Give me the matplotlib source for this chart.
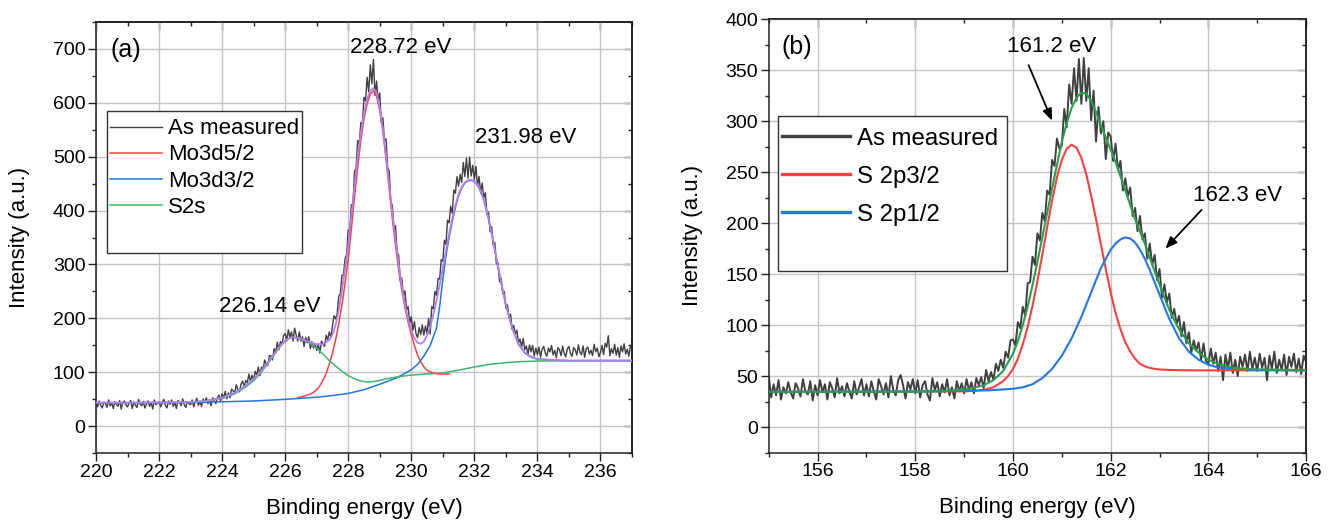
import numpy as np
import matplotlib
matplotlib.use("Agg")
import matplotlib.pyplot as plt
from matplotlib.ticker import MultipleLocator
from matplotlib.patches import Rectangle

plt.rcParams['font.family'] = ['Liberation Sans', 'DejaVu Sans']

# ---------------- Panel (a): Mo 3d / S 2s ----------------
a_meas_E = np.linspace(220, 237, 341)
a_meas_I = [
    44, 36, 47, 39, 34, 45, 42, 35, 49, 38, 43, 33, 46, 41, 37, 48, 32, 44, 47, 40,
    36, 43, 48, 33, 45, 39, 35, 50, 42, 38, 46, 34, 41, 47, 37, 44, 32, 49, 40, 43,
    46, 36, 43, 50, 39, 34, 47, 41, 49, 37, 44, 33, 48, 45, 38, 51, 40, 35, 46, 42,
    40, 49, 36, 46, 52, 39, 46, 37, 51, 44, 53, 42, 50, 38, 53, 48, 42, 53, 58, 47,
    60, 52, 65, 51, 62, 53, 69, 66, 61, 77, 68, 64, 78, 84, 73, 85, 81, 97, 83, 95,
    85, 102, 95, 110, 94, 110, 105, 123, 116, 113, 131, 131, 123, 144, 137, 156, 142, 157, 153, 168,
    172, 158, 179, 165, 175, 158, 182, 169, 158, 175, 158, 166, 148, 165, 155, 166, 144, 157, 145, 153,
    141, 153, 136, 158, 153, 148, 169, 160, 175, 165, 186, 205, 199, 209, 241, 246, 280, 281, 311, 319,
    364, 363, 411, 410, 473, 478, 530, 523, 563, 560, 610, 603, 647, 620, 670, 635, 680, 613, 640, 602,
    618, 563, 572, 528, 533, 480, 473, 415, 410, 363, 372, 323, 317, 270, 275, 242, 251, 216, 222, 191,
    203, 178, 194, 172, 164, 183, 170, 188, 169, 186, 172, 200, 171, 222, 218, 250, 243, 274, 273, 309,
    306, 345, 337, 382, 377, 408, 395, 438, 432, 463, 445, 467, 452, 489, 463, 497, 460, 499, 464, 484,
    457, 482, 446, 463, 432, 451, 423, 433, 393, 397, 361, 370, 335, 341, 301, 303, 268, 275, 246, 250,
    219, 225, 201, 208, 179, 187, 171, 178, 154, 162, 147, 163, 142, 149, 133, 151, 138, 150, 130, 145,
    133, 147, 128, 143, 148, 136, 130, 145, 138, 150, 132, 141, 127, 146, 142, 131, 149, 135, 129, 144,
    148, 135, 130, 146, 142, 132, 151, 137, 133, 149, 128, 144, 147, 134, 141, 131, 152, 138, 145, 129,
    137, 150, 133, 154, 147, 168, 131, 144, 135, 152, 132, 146, 128, 149, 138, 153, 134, 143, 130, 148,
    150,
]

a_red_E = np.round(np.arange(226.4, 231.25, 0.1), 2)
a_red_I = [53, 54.5, 56, 58, 60, 63, 68, 75, 85, 98,
           115, 136, 160, 190, 225, 265, 310, 365, 425, 480,
           530, 570, 598, 616, 622, 612, 585, 545, 495, 440,
           385, 335, 290, 252, 220, 193, 170, 150, 132, 120,
           110, 104, 101, 99, 98, 97, 97, 97, 97]

a_blue_E = [220, 221, 222, 223, 224, 225, 226, 226.5, 227, 227.5, 228, 228.5, 229, 229.5,
            229.7, 230.0, 230.2, 230.4, 230.6, 230.8, 230.9, 231.0, 231.1, 231.2, 231.3,
            231.4, 231.5, 231.6, 231.7, 231.8, 231.9, 232.0, 232.1, 232.2, 232.3, 232.4,
            232.5, 232.6, 232.7, 232.8, 232.9, 233.0, 233.2, 233.4, 233.6, 233.8, 234.0,
            234.5, 235, 236, 237]
a_blue_I = [43, 43.5, 44, 44.5, 45.5, 47, 50, 52, 54, 57, 61, 68, 78, 89,
            95, 105, 115, 130, 150, 182, 222, 272, 316, 351, 380,
            406, 427, 442, 451, 455, 456, 454, 447, 436, 419, 397,
            371, 342, 311, 281, 252, 225, 182, 152, 136, 128, 124.5,
            122.5, 121.5, 121.5, 121.5]

a_green_E = [223.0, 223.5, 224.0, 224.4, 224.8, 225.0, 225.2, 225.4, 225.6, 225.8, 226.0,
             226.1, 226.2, 226.4, 226.6, 226.8, 227.0, 227.2, 227.4, 227.6, 227.8, 228.0,
             228.2, 228.4, 228.6, 228.8, 229.0, 229.2, 229.4, 229.6, 230.0, 230.5, 231.0,
             231.5, 232.0, 232.5, 233.0, 233.5, 234.0, 235.0, 236.0, 237.0]
a_green_I = [45, 47, 52, 60, 75, 85, 97, 112, 128, 145, 158,
             163, 165, 164, 160, 153, 145, 134, 122, 112, 102, 94,
             88, 84, 82, 83, 85, 88, 90, 92, 95, 97, 99,
             104, 110, 115, 118, 120, 121, 121.5, 122, 122]

a_env_E = [220, 221, 222, 223, 223.5, 224.0, 224.4, 224.8, 225.0, 225.2, 225.4, 225.6,
           225.8, 226.0, 226.2, 226.4, 226.6, 226.8, 227.0, 227.2, 227.4, 227.5, 227.6,
           227.7, 227.8, 227.9, 228.0, 228.1, 228.2, 228.3, 228.4, 228.5, 228.6, 228.7,
           228.8, 228.9, 229.0, 229.1, 229.2, 229.3, 229.4, 229.5, 229.6, 229.7, 229.8,
           229.9, 230.0, 230.1, 230.2, 230.3, 230.4, 230.5, 230.6, 230.7, 230.8, 230.9,
           231.0, 231.1, 231.2, 231.3, 231.4, 231.5, 231.6, 231.7, 231.8, 231.9, 232.0,
           232.1, 232.2, 232.3, 232.4, 232.5, 232.6, 232.7, 232.8, 232.9, 233.0, 233.2,
           233.4, 233.6, 233.8, 234.0, 234.5, 235.0, 236.0, 237.0]
a_env_I = [44, 44, 44.5, 45, 47, 53, 62, 78, 88, 100, 114, 130,
           146, 159, 165, 164, 160, 156, 152, 152, 160, 170, 188,
           215, 252, 292, 335, 390, 445, 500, 545, 580, 607, 622,
           627, 618, 592, 552, 502, 448, 395, 345, 300, 260, 226,
           198, 178, 163, 155, 153, 157, 168, 185, 207, 233, 262,
           293, 325, 356, 385, 410, 430, 444, 452, 456, 457, 455,
           448, 437, 420, 398, 372, 343, 312, 282, 253, 226, 183,
           153, 137, 129, 125, 123, 122, 122, 122]

a_labels = ["As measured", "Mo3d5/2", "Mo3d3/2", "S2s"]

# ---------------- Panel (b): S 2p ----------------
b_meas_E = np.linspace(155, 166, 221)
b_meas_I = [
    50, 29, 42, 31, 46, 27, 39, 33, 44, 34, 28, 43, 38, 30, 47, 35, 32, 45, 26, 41,
    31, 46, 34, 42, 27, 44, 38, 29, 48, 33, 40, 30, 43, 35, 28, 45, 32, 39, 47, 31,
    42, 30, 45, 35, 27, 47, 40, 32, 43, 29, 50, 36, 31, 46, 51, 41, 28, 44, 37, 47,
    33, 46, 29, 41, 45, 32, 26, 48, 36, 44, 30, 42, 34, 47, 31, 39, 28, 45, 35, 43,
    33, 47, 36, 44, 33, 48, 41, 49, 38, 56, 45, 54, 46, 62, 55, 66, 58, 74, 68, 85,
    86, 80, 103, 97, 118, 109, 141, 142, 167, 159, 190, 183, 210, 202, 232, 228, 262, 256, 283, 273,
    276, 312, 294, 336, 317, 352, 320, 361, 317, 362, 320, 352, 301, 330, 280, 314, 288, 300, 263, 289,
    285, 261, 278, 252, 261, 232, 244, 226, 235, 207, 215, 192, 207, 184, 190, 165, 180, 159, 169, 144,
    155, 127, 140, 122, 131, 107, 116, 101, 109, 89, 103, 82, 93, 73, 85, 75, 83, 66, 82, 65,
    62, 77, 62, 73, 55, 69, 46, 71, 57, 73, 53, 66, 50, 69, 59, 71, 55, 74, 57, 68,
    55, 72, 58, 68, 46, 70, 57, 74, 53, 66, 56, 71, 51, 69, 59, 72, 54, 67, 52, 70,
    64,
]

b_red_E = [155.0, 157.0, 159.0, 159.2, 159.4, 159.6, 159.8, 159.9, 160.0, 160.1, 160.2,
           160.3, 160.4, 160.5, 160.6, 160.7, 160.8, 160.9, 161.0, 161.1, 161.2, 161.3,
           161.4, 161.5, 161.6, 161.7, 161.8, 161.9, 162.0, 162.1, 162.2, 162.3, 162.4,
           162.5, 162.6, 162.7, 162.8, 162.9, 163.0, 163.2, 163.5, 164.0, 165.0, 166.0]
b_red_I = [34.5, 34.8, 35, 35.5, 36.5, 39, 45, 50, 57, 67, 81,
           98, 119, 143, 169, 196, 222, 245, 262, 273, 277, 274,
           264, 248, 227, 204, 179, 155, 132, 112, 96, 83, 74,
           67, 62, 59.5, 58, 57, 56.5, 56, 55.7, 55.6, 55.6, 55.6]

b_blue_E = [155.0, 157.0, 158.0, 159.0, 159.5, 160.0, 160.2, 160.4, 160.6, 160.8, 161.0,
            161.2, 161.4, 161.6, 161.8, 162.0, 162.1, 162.2, 162.3, 162.4, 162.5, 162.6,
            162.7, 162.8, 163.0, 163.2, 163.4, 163.6, 163.8, 164.0, 164.2, 164.5, 165.0, 166.0]
b_blue_I = [34.5, 34.8, 35, 35.5, 36, 37.5, 39, 42, 48, 57, 70,
            87, 108, 132, 156, 174, 180, 184, 186, 185, 181, 174,
            165, 154, 130, 106, 87, 74, 66, 61, 58.5, 57, 56, 55.6]

b_env_E = [155.0, 156.0, 157.0, 158.0, 158.5, 158.8, 159.0, 159.2, 159.4, 159.6, 159.8,
           160.0, 160.1, 160.2, 160.3, 160.4, 160.5, 160.6, 160.7, 160.8, 160.9, 161.0,
           161.1, 161.2, 161.3, 161.4, 161.5, 161.6, 161.7, 161.8, 161.9, 162.0, 162.1,
           162.2, 162.3, 162.4, 162.5, 162.6, 162.7, 162.8, 162.9, 163.0, 163.1, 163.2,
           163.3, 163.4, 163.6, 163.8, 164.0, 164.2, 164.5, 165.0, 166.0]
b_env_I = [34.5, 34.5, 34.5, 34.7, 35, 35.8, 37, 38.5, 41, 46, 55,
           72, 84, 100, 118, 139, 162, 186, 210, 234, 257, 280,
           298, 313, 323, 328, 327, 320, 309, 296, 284, 272, 260,
           246, 232, 218, 204, 192, 180, 166, 153, 140, 127, 115,
           105, 96, 82, 73, 66, 62, 58, 56.5, 56]

b_labels = ["As measured", "S 2p3/2", "S 2p1/2"]

# ---------------- styling ----------------
C_MEAS = '#404040'
C_RED = '#ff3f3f'
C_BLUE = '#2276e6'
C_GREEN_A = '#3fb46e'
C_GREEN_B = '#25a04c'
C_PURPLE = '#b47df0'
GRID = '#c4c4c4'

fig = plt.figure(figsize=(13.33, 5.22), dpi=100)
axA = fig.add_axes([0.0720, 0.1316, 0.4021, 0.8268])
axB = fig.add_axes([0.5767, 0.1331, 0.4031, 0.8300])


def style_axes(ax, xlim, ylim, xmaj, ymaj, xmin, ymin):
    ax.set_xlim(*xlim)
    ax.set_ylim(*ylim)
    ax.xaxis.set_major_locator(MultipleLocator(xmaj))
    ax.xaxis.set_minor_locator(MultipleLocator(xmin))
    ax.yaxis.set_major_locator(MultipleLocator(ymaj))
    ax.yaxis.set_minor_locator(MultipleLocator(ymin))
    ax.grid(True, which='major', color=GRID, lw=1.0, zorder=0)
    ax.set_axisbelow(True)
    for s in ax.spines.values():
        s.set_linewidth(1.1)
        s.set_color('#222222')
    ax.tick_params(which='major', direction='out', length=5.5, width=1.0,
                   labelsize=14, color='#222222', pad=2.0)
    ax.tick_params(which='minor', direction='out', length=2.8, width=1.0,
                   color='#222222')
    top = ax.secondary_xaxis('top')
    top.xaxis.set_major_locator(MultipleLocator(xmaj))
    top.xaxis.set_minor_locator(MultipleLocator(xmin))
    top.tick_params(which='major', direction='in', length=5.5, width=1.0,
                    labeltop=False, color='#222222')
    top.tick_params(which='minor', direction='in', length=2.8, width=1.0,
                    color='#222222')
    top.spines['top'].set_linewidth(1.1)
    right = ax.secondary_yaxis('right')
    right.yaxis.set_major_locator(MultipleLocator(ymaj))
    right.yaxis.set_minor_locator(MultipleLocator(ymin))
    right.tick_params(which='major', direction='in', length=5.5, width=1.0,
                      labelright=False, color='#222222')
    right.tick_params(which='minor', direction='in', length=2.8, width=1.0,
                      color='#222222')
    right.spines['right'].set_linewidth(1.1)
    ax.set_xlabel('Binding energy (eV)', fontsize=16)
    ax.set_ylabel('Intensity (a.u.)', fontsize=16)
    ax.xaxis.set_label_coords(0.5, -0.127)
    ax.xaxis.label.set_va('center')
    ax.yaxis.set_label_coords(-0.1420, 0.5)
    ax.yaxis.label.set_va('center')


# ---- panel (a)
style_axes(axA, (220, 237), (-50, 750), 2, 100, 1, 50)
lA0, = axA.plot(a_meas_E, a_meas_I, color=C_MEAS, lw=1.0, zorder=2)
lA1, = axA.plot(a_red_E, a_red_I, color=C_RED, lw=1.1, zorder=3)
lA2, = axA.plot(a_blue_E, a_blue_I, color=C_BLUE, lw=1.1, zorder=3)
lA3, = axA.plot(a_green_E, a_green_I, color=C_GREEN_A, lw=1.1, zorder=3)
axA.plot(a_env_E, a_env_I, color=C_PURPLE, lw=1.3, zorder=4)

axA.add_patch(Rectangle((0.021, 0.465), 0.364, 0.3275, transform=axA.transAxes,
                        facecolor='white', edgecolor='#333333', lw=1.0, zorder=5))
legA = axA.legend([lA0, lA1, lA2, lA3], a_labels, loc='center left',
                  bbox_to_anchor=(0.027, 0.661), frameon=False, fontsize=16,
                  borderpad=0, borderaxespad=0, labelspacing=0.23,
                  handlelength=2.3, handletextpad=0.3)
legA.set_zorder(6)

axA.text(220.95, 697, '(a)', fontsize=18, ha='center', va='center', zorder=6)
axA.text(229.65, 703, '228.72 eV', fontsize=16, ha='center', va='center', zorder=6)
axA.text(233.64, 536, '231.98 eV', fontsize=16, ha='center', va='center', zorder=6)
axA.text(225.5, 222, '226.14 eV', fontsize=16, ha='center', va='center', zorder=6)

# ---- panel (b)
style_axes(axB, (155, 166), (-25, 400), 2, 50, 1, 25)
lB0, = axB.plot(b_meas_E, b_meas_I, color=C_MEAS, lw=1.4, zorder=2)
lB1, = axB.plot(b_red_E, b_red_I, color=C_RED, lw=1.5, zorder=3)
lB2, = axB.plot(b_blue_E, b_blue_I, color=C_BLUE, lw=1.5, zorder=3)
axB.plot(b_env_E, b_env_I, color=C_GREEN_B, lw=1.5, zorder=4)

axB.add_patch(Rectangle((0.018, 0.419), 0.425, 0.3575, transform=axB.transAxes,
                        facecolor='white', edgecolor='#333333', lw=1.0, zorder=5))
legB = axB.legend([lB0, lB1, lB2], b_labels, loc='center left',
                  bbox_to_anchor=(0.0245, 0.6365), frameon=False, fontsize=17.3,
                  borderpad=0, borderaxespad=0, labelspacing=0.66,
                  handlelength=2.85, handletextpad=0.27)
for h in legB.legend_handles:
    h.set_linewidth(2.4)
legB.set_zorder(6)

axB.text(155.58, 373, '(b)', fontsize=18, ha='center', va='center', zorder=6)
axB.text(160.8, 373, '161.2 eV', fontsize=16, ha='center', va='center', zorder=6)
axB.text(164.6, 227.5, '162.3 eV', fontsize=16, ha='center', va='center', zorder=6)
arrow_kw = dict(arrowstyle='-|>,head_length=0.7,head_width=0.28', color='black', lw=1.3,
                shrinkA=0, shrinkB=0)
axB.annotate('', xy=(160.80, 300.5), xytext=(160.32, 355), arrowprops=arrow_kw, zorder=6)
axB.annotate('', xy=(163.12, 175), xytext=(163.86, 213), arrowprops=arrow_kw, zorder=6)

fig.savefig('out.png', dpi=100)
